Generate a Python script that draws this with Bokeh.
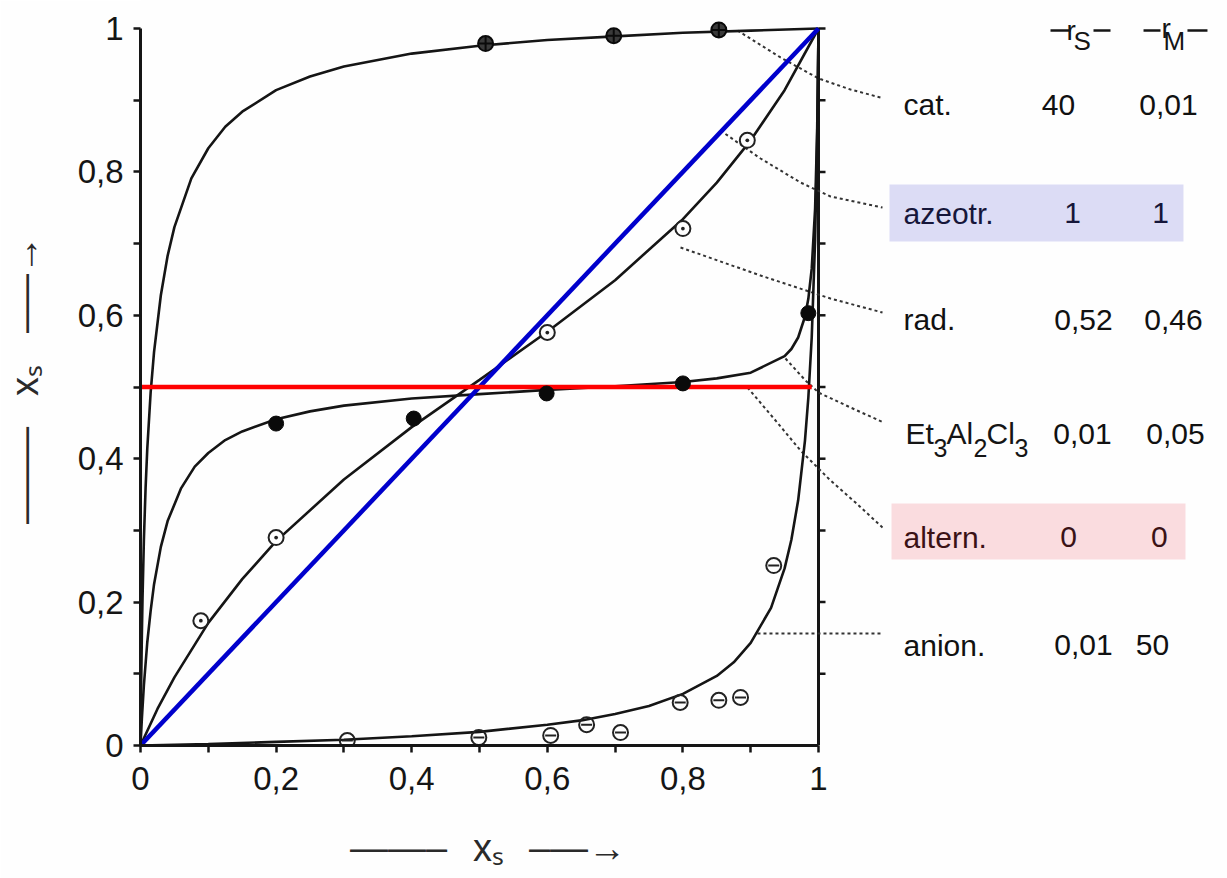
import math
from bokeh.plotting import figure
from bokeh.models import Range1d, FixedTicker, BoxAnnotation, LinearAxis
from bokeh.core.properties import value
from bokeh.embed import file_html
from bokeh.resources import INLINE

# ---------------- data ----------------
tick_vals = [0.0, 0.2, 0.4, 0.6, 0.8, 1.0]
minor_vals = [0.1, 0.3, 0.5, 0.7, 0.9]
tick_labels = ["0", "0,2", "0,4", "0,6", "0,8", "1"]

# cationic (r_S = 40, r_M = 0.01)
cat_x = [0.0, 0.001, 0.002, 0.003, 0.005, 0.0075, 0.01, 0.015, 0.02, 0.03, 0.04, 0.05, 0.075, 0.1,
         0.125, 0.15, 0.2, 0.25, 0.3, 0.4, 0.5, 0.6, 0.7, 0.8, 0.9, 1.0]
cat_y = [0.0, 0.087, 0.153, 0.206, 0.287, 0.359, 0.414, 0.493, 0.549, 0.628, 0.683, 0.723, 0.791,
         0.833, 0.863, 0.884, 0.914, 0.933, 0.947, 0.965, 0.976, 0.984, 0.989, 0.994, 0.997, 1.0]
cat_px = [0.509, 0.698, 0.853]
cat_py = [0.979, 0.990, 0.998]

# radical (r_S = 0.52, r_M = 0.46)
rad_x = [0.0, 0.025, 0.05, 0.1, 0.15, 0.2, 0.3, 0.4, 0.5, 0.6, 0.7, 0.8, 0.85, 0.9, 0.95, 1.0]
rad_y = [0.0, 0.051, 0.095, 0.171, 0.232, 0.285, 0.371, 0.444, 0.510, 0.577, 0.649, 0.734, 0.785,
         0.844, 0.914, 1.0]
rad_px = [0.089, 0.200, 0.600, 0.800, 0.895]
rad_py = [0.174, 0.290, 0.576, 0.721, 0.844]

# Et3Al2Cl3 (r_S = 0.01, r_M = 0.05)
et_x = [0.0, 0.002, 0.005, 0.01, 0.015, 0.02, 0.03, 0.04, 0.06, 0.08, 0.1, 0.125, 0.15, 0.2, 0.25,
        0.3, 0.4, 0.5, 0.6, 0.7, 0.8, 0.85, 0.9, 0.95, 0.96, 0.97, 0.98, 0.985, 0.99, 0.995, 0.998, 1.0]
et_y = [0.0, 0.037, 0.084, 0.144, 0.188, 0.225, 0.277, 0.313, 0.359, 0.389, 0.408, 0.426, 0.438,
        0.455, 0.466, 0.474, 0.484, 0.490, 0.496, 0.501, 0.507, 0.512, 0.520, 0.543, 0.553, 0.569,
        0.598, 0.623, 0.665, 0.749, 0.857, 1.0]
et_px = [0.200, 0.403, 0.599, 0.800, 0.985]
et_py = [0.449, 0.456, 0.491, 0.505, 0.603]

# anionic (r_S = 0.01, r_M = 50)
an_x = [0.0, 0.1, 0.2, 0.3, 0.4, 0.5, 0.6, 0.65, 0.7, 0.75, 0.8, 0.85, 0.875, 0.9, 0.93, 0.95, 0.96,
        0.97, 0.98, 0.985, 0.99, 0.995, 0.998, 1.0]
an_y = [0.0, 0.002, 0.005, 0.008, 0.013, 0.019, 0.029, 0.035, 0.044, 0.055, 0.072, 0.097, 0.116,
        0.143, 0.192, 0.247, 0.287, 0.342, 0.425, 0.485, 0.569, 0.705, 0.845, 1.0]
an_px = [0.305, 0.499, 0.605, 0.658, 0.708, 0.796, 0.853, 0.885, 0.934]
an_py = [0.007, 0.011, 0.014, 0.029, 0.018, 0.060, 0.063, 0.067, 0.251]

# azeotropic (r_S = r_M = 1) and alternating (r_S = r_M = 0)
azeo_x = [0.0, 1.0]
azeo_y = [0.0, 1.0]
alt_x = [0.0, 0.99]
alt_y = [0.5, 0.5]

# leader lines from curves to the table
lead_xs = [
    [0.8805, 0.944, 1.0, 1.0472, 1.0914],
    [0.8555, 0.9145, 0.9735, 1.0177, 1.0944],
    [0.7965, 0.9145, 1.0177, 1.0944],
    [0.9513, 0.9808, 1.0, 1.0472, 1.0959],
    [0.8953, 0.9366, 0.9735, 1.0177, 1.0546, 1.0944],
    [0.91, 1.0914],
]
lead_ys = [
    [0.9972, 0.9596, 0.9303, 0.9149, 0.9038],
    [0.8577, 0.8187, 0.7852, 0.7657, 0.7503],
    [0.6946, 0.6555, 0.6234, 0.6039],
    [0.5397, 0.5091, 0.4923, 0.4714, 0.4505],
    [0.4993, 0.4533, 0.4114, 0.3696, 0.3389, 0.3040],
    [0.1562, 0.1562],
]

# table
row_names = ["cat.", "azeotr.", "rad.", "", "altern.", "anion."]
rs_vals = ["40", "1", "0,52", "0,01", "0", "0,01"]
rm_vals = ["0,01", "1", "0,46", "0,05", "0", "50"]
et_parts = ["Et", "3", "Al", "2", "Cl", "3"]

# axis titles  "---- x_S ---->"
title_parts = ["\u2014\u2014\u2013", "x\u209b", "\u2013\u2014\u2192"]

# ---------------- layout / style ----------------
X0, Y0 = 140, 745          # pixel position of (0,0)
SX, SY = 678.0, 717.0      # pixels per unit
W, H = 1227, 878


def dx(px):
    return round((px - X0) / SX, 4)


def dy(py):
    return round((Y0 - py) / SY, 4)


INK = "#151515"
FONT = "Liberation Sans"

p = figure(width=W, height=H, output_backend="svg", toolbar_location=None,
           x_range=Range1d(0, (W - X0) / SX), y_range=Range1d(0, Y0 / SY),
           min_border_left=X0, min_border_bottom=H - Y0, min_border_top=0, min_border_right=0)
p.outline_line_color = None
p.grid.visible = False
p.background_fill_color = "#fefefe"
p.border_fill_color = "#fefefe"

for ax in (p.xaxis[0], p.yaxis[0]):
    ax.ticker = FixedTicker(ticks=tick_vals, minor_ticks=minor_vals)
    ax.major_label_overrides = dict(zip(tick_vals, tick_labels))
    ax.bounds = (0, 1)
    ax.axis_line_width = 3
    ax.axis_line_color = INK
    ax.major_tick_line_width = 2.5
    ax.minor_tick_line_width = 2.5
    ax.major_tick_line_color = INK
    ax.minor_tick_line_color = INK
    ax.major_tick_out = 7
    ax.major_tick_in = 0
    ax.minor_tick_out = 7
    ax.minor_tick_in = 0
    ax.major_label_text_font = FONT
    ax.major_label_text_font_size = "33px"
    ax.major_label_text_color = INK
p.xaxis[0].major_label_standoff = 14
p.yaxis[0].major_label_standoff = 10

# axis titles, drawn as labels of two extra (line-less) axes so that they sit outside the frame
xt_ticks = [dx(398), dx(488), dx(577)]
xt = LinearAxis(ticker=FixedTicker(ticks=xt_ticks, minor_ticks=[]),
                major_label_overrides=dict(zip(xt_ticks, title_parts)),
                axis_line_color=None, major_tick_line_color=None, minor_tick_line_color=None,
                major_label_standoff=28, major_label_text_font=FONT,
                major_label_text_font_size="38px", major_label_text_color="#2a2a2a")
p.add_layout(xt, "below")

yt_ticks = [dy(475), dy(380), dy(284)]
yt = LinearAxis(ticker=FixedTicker(ticks=yt_ticks, minor_ticks=[]),
                major_label_overrides=dict(zip(yt_ticks, title_parts)),
                axis_line_color=None, major_tick_line_color=None, minor_tick_line_color=None,
                major_label_standoff=22, major_label_orientation="vertical",
                major_label_text_font=FONT, major_label_text_font_size="38px",
                major_label_text_color="#2a2a2a")
p.add_layout(yt, "left")

# highlight boxes behind table rows
p.add_layout(BoxAnnotation(left=dx(889), right=dx(1183), top=dy(184), bottom=dy(241),
                           fill_color="#dcdcf5", fill_alpha=1.0, line_color=None, level="underlay"))
p.add_layout(BoxAnnotation(left=dx(891), right=dx(1185), top=dy(503), bottom=dy(559),
                           fill_color="#fadcdf", fill_alpha=1.0, line_color=None, level="underlay"))

# right-hand frame line at x = 1 with outward ticks
p.segment(x0=[1.0], y0=[0.0], x1=[1.0], y1=[1.0], line_color=INK, line_width=3)
rt = minor_vals + tick_vals[1:]
p.segment(x0=[1.0] * len(rt), y0=rt, x1=[1.0 + 7 / SX] * len(rt), y1=rt,
          line_color=INK, line_width=2.5)

# leader lines
p.multi_line(xs=lead_xs, ys=lead_ys, line_color="#333333", line_width=2, line_dash="3 3")

# original dashed azeotropic / alternating lines (under highlights)
p.line(azeo_x, azeo_y, line_color=INK, line_width=2, line_dash="4 4")
p.line(alt_x, alt_y, line_color=INK, line_width=2, line_dash="4 4")

# curves
for xs, ys in ((cat_x, cat_y), (rad_x, rad_y), (et_x, et_y), (an_x, an_y)):
    p.line(xs, ys, line_color=INK, line_width=2.6)

# highlight lines
p.line(azeo_x, azeo_y, line_color="#0000cc", line_width=4.5)
p.line(alt_x, alt_y, line_color="#ff0000", line_width=4.5)

# measured points
p.scatter(cat_px, cat_py, marker="circle_cross", size=15, fill_color="#3a3a3a",
          line_color="#0a0a0a", line_width=2)
p.scatter(rad_px, rad_py, marker="circle_dot", size=15, fill_color="#fefefe",
          line_color="#222222", line_width=2)
p.scatter(et_px, et_py, marker="circle", size=15, fill_color="#0a0a0a", line_color="#0a0a0a")
p.scatter(an_px, an_py, marker="circle", size=15, fill_color=None, line_color="#222222", line_width=2)
p.scatter(an_px, an_py, marker="dash", size=11, line_color="#222222", line_width=2)

# table texts
row_base = [dy(104), dy(213), dy(319), dy(433), dy(537), dy(645)]
row_col = ["#111111", "#16163a", "#111111", "#111111", "#3a1216", "#111111"]
name_x = [dx(903)] * len(row_names)
rs_x = [dx(v) for v in (1058, 1072, 1083, 1082, 1068, 1083)]
rm_x = [dx(v) for v in (1168, 1160, 1173, 1175, 1159, 1152)]
tkw = dict(text_font=value(FONT), text_font_size="30px", text_baseline="alphabetic")
p.text(x=name_x, y=row_base, text=row_names, text_align="left", text_color=row_col, **tkw)
p.text(x=rs_x, y=row_base, text=rs_vals, text_align="center", text_color=row_col, **tkw)
p.text(x=rm_x, y=row_base, text=rm_vals, text_align="center", text_color=row_col, **tkw)

# Et3Al2Cl3 with subscripts
et_pos_x = [dx(v) for v in (905, 933, 946, 973, 986, 1014)]
et_pos_y = [dy(433), dy(447), dy(433), dy(447), dy(433), dy(447)]
et_size = ["30px", "25px", "30px", "25px", "30px", "25px"]
p.text(x=et_pos_x, y=et_pos_y, text=et_parts, text_font=value(FONT),
       text_font_size=et_size, text_baseline="alphabetic", text_align="left", text_color=INK)

# column headers  -r_S-   -r_M-
p.segment(x0=[dx(1050), dx(1093), dx(1143), dx(1187)], y0=[dy(30)] * 4,
          x1=[dx(1070), dx(1110), dx(1160), dx(1207)], y1=[dy(30)] * 4,
          line_color=INK, line_width=2.5)
p.text(x=[dx(1066), dx(1161)], y=[dy(30), dy(28)], text=["r", "r"], text_font=value(FONT),
       text_font_size="28px", text_baseline="alphabetic", text_align="left", text_color=INK)
p.text(x=[dx(1073), dx(1163)], y=[dy(41), dy(41)], text=["S", "M"], text_font=value(FONT),
       text_font_size="26px", text_baseline="alphabetic", text_align="left", text_color=INK)

open("out.html", "w").write(file_html(p, INLINE))
